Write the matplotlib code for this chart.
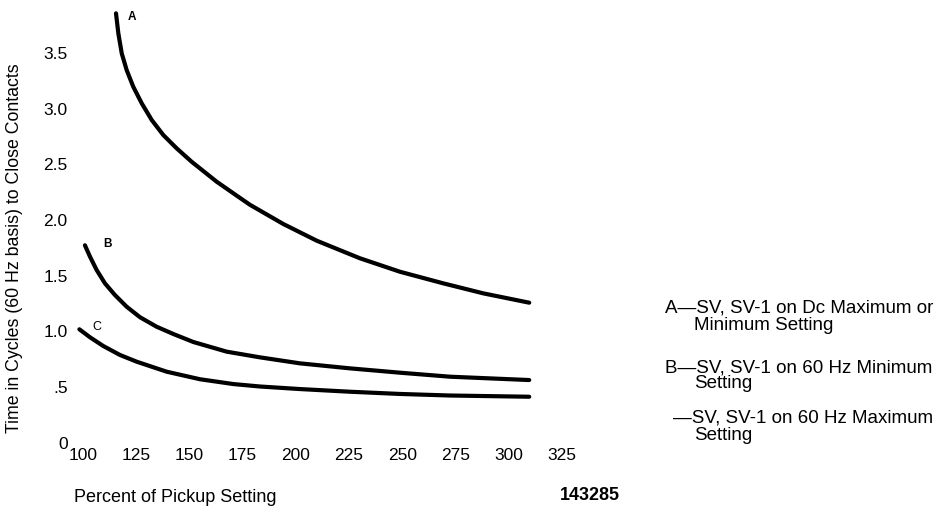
import numpy as np
import matplotlib.pyplot as plt

plt.rcParams['font.family'] = ['Liberation Sans', 'DejaVu Sans']

# curve A - SV, SV-1 on Dc max or min setting
pct_a = [115.5, 116.6, 118.2, 120.5, 123.6, 127.6, 132.3, 137.7, 144.0, 151.0,
         162.8, 173.7, 178.4, 194.1, 209.8, 230.1, 248.9, 269.2, 288.0, 309.6]
time_a = [3.858, 3.678, 3.498, 3.349, 3.199, 3.049, 2.899, 2.765, 2.645, 2.525,
          2.345, 2.200, 2.138, 1.965, 1.815, 1.657, 1.536, 1.432, 1.342, 1.258]

# curve B - 60 Hz minimum setting
pct_b = [100.9, 103.3, 106.4, 110.3, 115.0, 120.5, 126.8, 134.6, 142.4, 151.8,
         167.5, 183.1, 201.9, 225.4, 248.9, 272.4, 309.6]
time_b = [1.774, 1.671, 1.552, 1.432, 1.327, 1.222, 1.127, 1.042, 0.977, 0.905,
          0.818, 0.767, 0.713, 0.668, 0.629, 0.593, 0.563]

# curve C - 60 Hz maximum setting
pct_c = [98.3, 103.3, 109.5, 117.4, 125.2, 139.3, 155.0, 170.6, 183.1,
         201.9, 225.4, 248.9, 272.4, 309.6]
time_c = [1.019, 0.947, 0.869, 0.788, 0.728, 0.638, 0.570, 0.527, 0.505,
          0.482, 0.458, 0.438, 0.424, 0.413]

x_ticks = [100, 125, 150, 175, 200, 225, 250, 275, 300, 325]
y_ticks = [0, 0.5, 1.0, 1.5, 2.0, 2.5, 3.0, 3.5]
y_labels = ['0', '.5', '1.0', '1.5', '2.0', '2.5', '3.0', '3.5']

legend_lines = [
    ('A\u2014SV, SV-1 on Dc Maximum or', 665, 308),
    ('Minimum Setting', 694, 326),
    ('B\u2014SV, SV-1 on 60 Hz Minimum', 665, 368),
    ('Setting', 694, 384),
    ('\u2014SV, SV-1 on 60 Hz Maximum', 673, 418),
    ('Setting', 694, 436),
]

W, H = 943, 508
fig = plt.figure(figsize=(W / 100, H / 100), dpi=100)
ax = fig.add_axes([83 / W, (H - 442.7) / H, 479 / W, 439.6 / H])

for xs, ys in [(pct_a, time_a), (pct_b, time_b), (pct_c, time_c)]:
    ax.plot(xs, ys, color='black', lw=3, solid_capstyle='round',
            solid_joinstyle='round', clip_on=False)

ax.text(121.1, 3.825, 'A', fontsize=8.5, fontweight='bold', va='center')
ax.text(109.5, 1.785, 'B', fontsize=8.5, fontweight='bold', va='center')
ax.text(104.5, 1.042, 'C', fontsize=9, va='center')

ax.set_xlim(100, 325)
ax.set_ylim(0, 3.95)
ax.set_xticks(x_ticks)
ax.set_xticklabels([str(t) for t in x_ticks])
ax.set_yticks(y_ticks)
ax.set_yticklabels(y_labels)
ax.tick_params(axis='x', length=0, pad=4, labelsize=12.5)
ax.tick_params(axis='y', length=0, pad=11, labelsize=12.5)
for s in ax.spines.values():
    s.set_visible(False)

fig.text(15 / W, 1 - 248 / H, 'Time in Cycles (60 Hz basis) to Close Contacts',
         rotation=90, ha='center', va='center', fontsize=12.8)
fig.text(175 / W, 1 - 497 / H, 'Percent of Pickup Setting',
         ha='center', va='center', fontsize=13)
fig.text(590 / W, 1 - 495 / H, '143285', ha='center', va='center',
         fontsize=13, fontweight='bold')

for txt, px, py in legend_lines:
    fig.text(px / W, 1 - py / H, txt, ha='left', va='center', fontsize=13.5)

fig.savefig('out.png', dpi=100)
